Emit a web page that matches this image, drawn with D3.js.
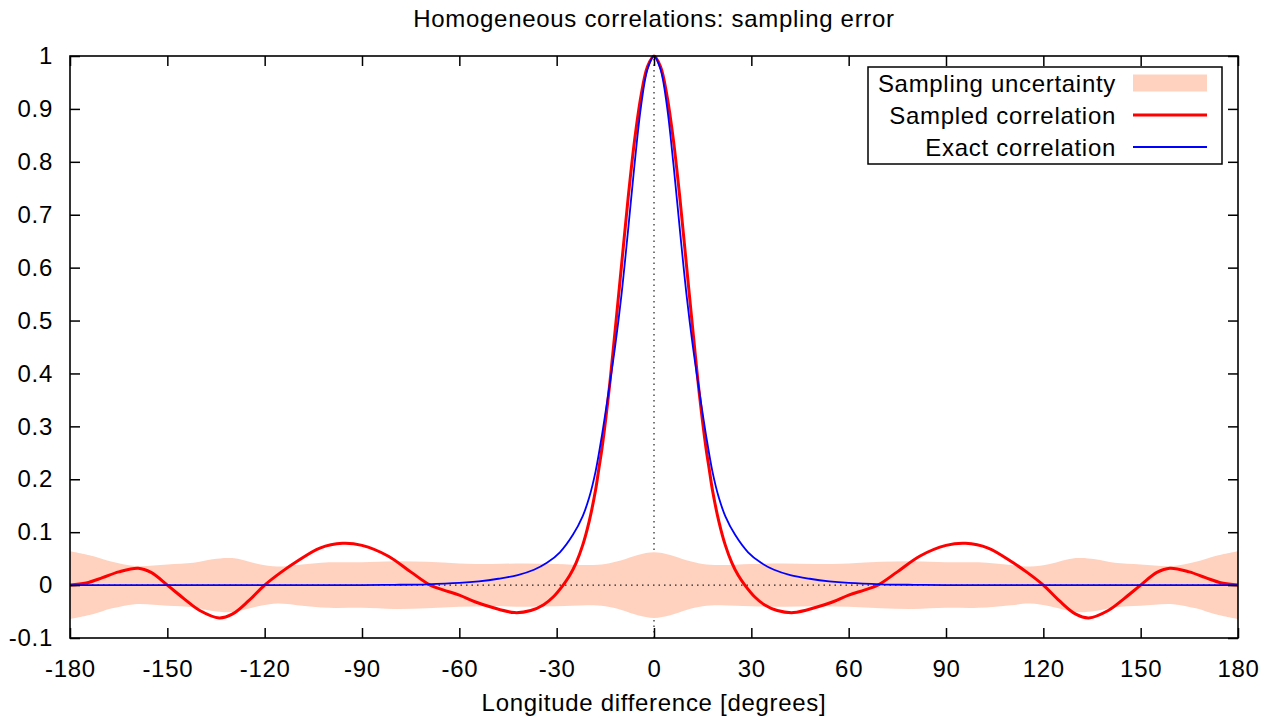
<!DOCTYPE html>
<html>
  <head>
    <title>Homogeneous correlations: sampling error</title>
    <script src="https://d3js.org/d3.v7.min.js"></script>
    <style>
      body, html {
        margin: 0;
        width: 100%;
        height: 100%;
        overflow: hidden;
        background: white;
      }
      svg text {
        font-family: 'Liberation Sans', Arial, Helvetica, sans-serif;
        font-size: 24px;
        letter-spacing: 0.7px;
        fill: black;
      }
      .axis path { display: none; }
      .axis line { stroke: black; stroke-width: 1.5px; }
    </style>
  </head>
  <body>
    <svg id="chart" width="1270" height="724"></svg>
    <script>
      // values
      const xTicks = [-180, -150, -120, -90, -60, -30, 0, 30, 60, 90, 120, 150, 180];
      const yTicks = [-0.1, 0, 0.1, 0.2, 0.3, 0.4, 0.5, 0.6, 0.7, 0.8, 0.9, 1];

      const sampledX = [-180, -175, -170, -165, -159, -155, -150, -145, -140, -134, -130, -125, -120, -115, -110, -103, -96, -90, -82, -75, -69, -65, -60, -55, -50, -43, -38, -34, -31, -28, -26, -24, -22, -20, -18, -17, -16, -14, -12, -10, -8, -6, -4, -2,
        0, 2, 4, 6, 8, 10, 12, 14, 16, 17, 18, 20, 22, 24, 26, 28, 31, 34, 38, 43, 50, 55, 60, 65, 69, 75, 82, 90, 96, 103, 110, 115, 120, 125, 130, 134, 140, 145, 150, 155, 159, 165, 170, 175, 180];
      const sampledY = [0, 0.004, 0.014, 0.025, 0.032, 0.024, 0, -0.025, -0.048, -0.062, -0.055, -0.03, 0, 0.024, 0.045, 0.07, 0.079, 0.075, 0.055, 0.025, 0, -0.009, -0.019, -0.032, -0.042, -0.052, -0.048, -0.037, -0.022, 0, 0.018, 0.042, 0.075, 0.12, 0.18, 0.22, 0.26, 0.36, 0.48, 0.605, 0.73, 0.84, 0.925, 0.98,
        1, 0.98, 0.925, 0.84, 0.73, 0.605, 0.48, 0.36, 0.26, 0.22, 0.18, 0.12, 0.075, 0.042, 0.018, 0, -0.022, -0.037, -0.048, -0.052, -0.042, -0.032, -0.019, -0.009, 0, 0.025, 0.055, 0.075, 0.079, 0.07, 0.045, 0.024, 0, -0.03, -0.055, -0.062, -0.048, -0.025, 0, 0.024, 0.032, 0.025, 0.014, 0.004, 0];

      const exactX = [-180, -120, -90, -80, -70, -60, -54, -48, -42, -37, -33, -29, -25, -22, -20, -18, -16, -14, -12, -10, -8, -6, -4, -2,
        0, 2, 4, 6, 8, 10, 12, 14, 16, 18, 20, 22, 25, 29, 33, 37, 42, 48, 54, 60, 70, 80, 90, 120, 180];
      const exactY = [0, 0, 0, 0.0005, 0.0015, 0.004, 0.007, 0.012, 0.019, 0.029, 0.042, 0.062, 0.095, 0.13, 0.165, 0.215, 0.285, 0.365, 0.45, 0.55, 0.67, 0.795, 0.905, 0.975,
        1, 0.975, 0.905, 0.795, 0.67, 0.55, 0.45, 0.365, 0.285, 0.215, 0.165, 0.13, 0.095, 0.062, 0.042, 0.029, 0.019, 0.012, 0.007, 0.004, 0.0015, 0.0005, 0, 0, 0];

      const spreadX = [-180, -173, -167, -160, -150, -142, -136, -130, -122, -116, -110, -100, -90, -80, -70, -60, -50, -40, -30, -20, -15, -10, -5,
        0, 5, 10, 15, 20, 30, 40, 50, 60, 70, 80, 90, 100, 110, 116, 122, 130, 136, 142, 150, 160, 167, 173, 180];
      const spreadHalf = [0.064, 0.055, 0.044, 0.036, 0.039, 0.042, 0.049, 0.051, 0.04, 0.035, 0.038, 0.043, 0.043, 0.045, 0.044, 0.041, 0.04, 0.041, 0.04, 0.038, 0.04, 0.047, 0.057,
        0.062, 0.057, 0.047, 0.04, 0.038, 0.04, 0.041, 0.04, 0.041, 0.044, 0.045, 0.043, 0.043, 0.038, 0.035, 0.04, 0.051, 0.049, 0.042, 0.039, 0.036, 0.044, 0.055, 0.064];

      const legendLabels = ["Sampling uncertainty", "Sampled correlation", "Exact correlation"];

      const width = 1270, height = 724;
      const margin = {top: 56, right: 32, bottom: 86, left: 70};
      const svg = d3.select("#chart");

      const x = d3.scaleLinear().domain([-180, 180]).range([margin.left, width - margin.right]);
      const y = d3.scaleLinear().domain([-0.1, 1]).range([height - margin.bottom, margin.top]);
      const smooth = d3.curveCatmullRom.alpha(0.5);

      // zero axes (dotted)
      svg.append("line")
        .attr("x1", x(0)).attr("x2", x(0))
        .attr("y1", y(-0.1)).attr("y2", y(1))
        .attr("stroke", "#333").attr("stroke-width", 1.3)
        .attr("stroke-dasharray", "1.5,4");

      // uncertainty band
      const band = spreadX.map((v, i) => ({x: v, s: spreadHalf[i]}));
      svg.append("path")
        .datum(band)
        .attr("fill", "rgb(255,210,192)")
        .attr("d", d3.area()
          .x(d => x(d.x))
          .y0(d => y(-d.s))
          .y1(d => y(d.s))
          .curve(smooth));

      svg.append("line")
        .attr("x1", x(-180)).attr("x2", x(180))
        .attr("y1", y(0)).attr("y2", y(0))
        .attr("stroke", "#222").attr("stroke-width", 1.3)
        .attr("stroke-dasharray", "1.5,4");

      const line = d3.line().x(d => x(d[0])).y(d => y(d[1])).curve(smooth);

      svg.append("path")
        .datum(sampledX.map((v, i) => [v, sampledY[i]]))
        .attr("fill", "none").attr("stroke", "#ff0000").attr("stroke-width", 3)
        .attr("d", line);

      svg.append("path")
        .datum(exactX.map((v, i) => [v, exactY[i]]))
        .attr("fill", "none").attr("stroke", "#0000ff").attr("stroke-width", 1.8)
        .attr("d", line);

      // axes with inward ticks
      const fmt = v => String(+v.toFixed(1));
      svg.append("g").attr("class", "axis")
        .attr("transform", `translate(0,${height - margin.bottom})`)
        .call(d3.axisBottom(x).tickValues(xTicks).tickSizeInner(-10).tickSizeOuter(0).tickPadding(22).tickFormat(fmt));
      svg.append("g").attr("class", "axis")
        .attr("transform", `translate(0,${margin.top})`)
        .call(d3.axisTop(x).tickValues(xTicks).tickSizeInner(-10).tickSizeOuter(0).tickFormat(""));
      svg.append("g").attr("class", "axis")
        .attr("transform", `translate(${margin.left},0)`)
        .call(d3.axisLeft(y).tickValues(yTicks).tickSizeInner(-10).tickSizeOuter(0).tickPadding(17).tickFormat(fmt));
      svg.append("g").attr("class", "axis")
        .attr("transform", `translate(${width - margin.right},0)`)
        .call(d3.axisRight(y).tickValues(yTicks).tickSizeInner(-10).tickSizeOuter(0).tickFormat(""));
      svg.selectAll(".axis text").attr("fill", "black")
        .style("font-family", "'Liberation Sans', Arial, sans-serif").style("font-size", "24px");

      svg.append("rect")
        .attr("x", margin.left).attr("y", margin.top)
        .attr("width", width - margin.left - margin.right)
        .attr("height", height - margin.top - margin.bottom)
        .attr("fill", "none").attr("stroke", "black").attr("stroke-width", 1.6);

      // title and axis label
      svg.append("text").attr("x", x(0)).attr("y", 27)
        .attr("text-anchor", "middle").text("Homogeneous correlations: sampling error");
      svg.append("text").attr("x", x(0)).attr("y", 711)
        .attr("text-anchor", "middle").text("Longitude difference [degrees]");

      // legend
      const lg = svg.append("g");
      lg.append("rect").attr("x", 868).attr("y", 67).attr("width", 354).attr("height", 97)
        .attr("fill", "white").attr("stroke", "black").attr("stroke-width", 1.5);
      legendLabels.forEach((t, i) => {
        const cy = 83 + i * 32;
        lg.append("text").attr("x", 1116).attr("y", cy + 8.5).attr("text-anchor", "end").text(t);
        if (i === 0) {
          lg.append("rect").attr("x", 1133).attr("y", cy - 8.5).attr("width", 74).attr("height", 17)
            .attr("fill", "rgb(255,210,192)");
        } else {
          lg.append("line").attr("x1", 1133).attr("x2", 1207).attr("y1", cy).attr("y2", cy)
            .attr("stroke", i === 1 ? "#ff0000" : "#0000ff")
            .attr("stroke-width", i === 1 ? 3 : 1.8);
        }
      });
    </script>
  </body>
</html>
